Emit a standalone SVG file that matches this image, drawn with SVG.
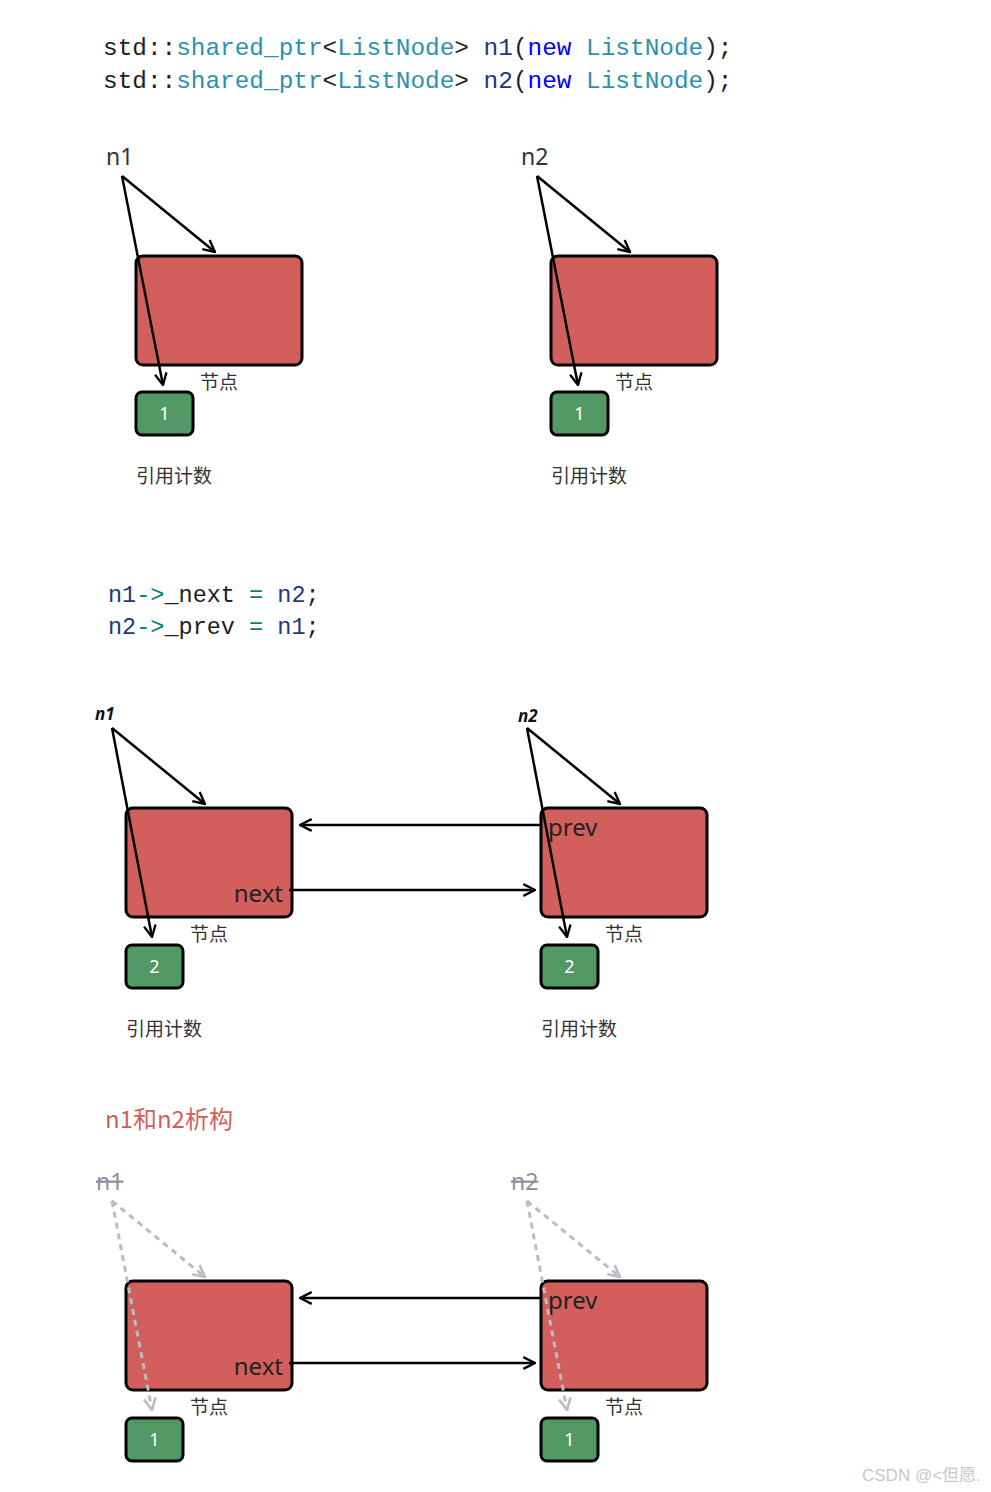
<svg xmlns="http://www.w3.org/2000/svg" width="991" height="1492" viewBox="0 0 991 1492">
<style>
.code{font-family:"Liberation Mono","DejaVu Sans Mono",monospace;font-size:24.4px;fill:#1e1e1e}
.t{fill:#2b91af}.v{fill:#1f377f}.k{fill:#0000ff}.o{fill:#008080}
.lbl{font-family:"Noto Sans","DejaVu Sans",sans-serif;font-size:23px;fill:#333}
.lbi{font-family:"Noto Sans","DejaVu Sans",sans-serif;font-size:17px;font-weight:bold;font-style:italic;fill:#111}
.lbg{font-family:"Noto Sans","DejaVu Sans",sans-serif;font-size:23px;fill:#8d939c;text-decoration:line-through}
.node{fill:#d35f5c;stroke:#000;stroke-width:3}
.cnt{fill:#529865;stroke:#000;stroke-width:3}
.num{font-family:"Noto Sans",sans-serif;font-size:18px;fill:#fff;text-anchor:middle}
.cn{font-family:"Noto Sans CJK SC",sans-serif;font-size:19px;fill:#333}
.in{font-family:"Noto Sans","DejaVu Sans",sans-serif;font-size:24px;fill:#222}
.a{fill:none;stroke:#000;stroke-width:2.5;marker-end:url(#ah)}
.g{fill:none;stroke:#b9bdc4;stroke-width:3;stroke-dasharray:6 5;marker-end:url(#ag)}
</style>
<defs>
<marker id="ah" viewBox="0 0 12 12" refX="11" refY="6" markerWidth="14" markerHeight="14" markerUnits="userSpaceOnUse" orient="auto"><path d="M1,1 L11,6 L1,11" fill="none" stroke="#000" stroke-width="2"/></marker>
<marker id="ag" viewBox="0 0 12 12" refX="11" refY="6" markerWidth="14" markerHeight="14" markerUnits="userSpaceOnUse" orient="auto"><path d="M1,1 L11,6 L1,11" fill="none" stroke="#b9bdc4" stroke-width="2.2"/></marker>
</defs>

<g id="code1">
<text class="code" x="103" y="55">std::<tspan class="t">shared_ptr</tspan>&lt;<tspan class="t">ListNode</tspan>&gt; <tspan class="v">n1</tspan>(<tspan class="k">new</tspan> <tspan class="t">ListNode</tspan>);</text>
<text class="code" x="103" y="88">std::<tspan class="t">shared_ptr</tspan>&lt;<tspan class="t">ListNode</tspan>&gt; <tspan class="v">n2</tspan>(<tspan class="k">new</tspan> <tspan class="t">ListNode</tspan>);</text>
</g>

<!-- Section 1 -->
<g id="s1-n1"><text class="lbl" x="106" y="165">n1</text></g>
<g id="s1-node1"><rect class="node" x="136" y="256" width="166" height="109" rx="7"/><text class="cn" x="200" y="389">节点</text></g>
<g id="s1-cnt1"><rect class="cnt" x="136" y="392" width="57" height="43" rx="6"/><text class="num" x="164.5" y="420">1</text><text class="cn" x="136" y="483">引用计数</text></g>
<g id="s1-n2"><text class="lbl" x="521" y="165">n2</text></g>
<g id="s1-node2"><rect class="node" x="551" y="256" width="166" height="109" rx="7"/><text class="cn" x="615" y="389">节点</text></g>
<g id="s1-cnt2"><rect class="cnt" x="551" y="392" width="57" height="43" rx="6"/><text class="num" x="579.5" y="420">1</text><text class="cn" x="551" y="483">引用计数</text></g>

<g id="code2">
<text class="code" x="108" y="602" style="font-size:23.5px"><tspan class="v">n1</tspan><tspan class="o">-&gt;</tspan>_next <tspan class="o">=</tspan> <tspan class="v">n2</tspan>;</text>
<text class="code" x="108" y="634" style="font-size:23.5px"><tspan class="v">n2</tspan><tspan class="o">-&gt;</tspan>_prev <tspan class="o">=</tspan> <tspan class="v">n1</tspan>;</text>
</g>

<!-- Section 2 -->
<g id="s2-n1"><text class="lbi" x="95" y="720">n1</text></g>
<g id="s2-node1"><rect class="node" x="126" y="808" width="166" height="109" rx="7"/><text class="in" x="283" y="902" text-anchor="end">next</text><text class="cn" x="190" y="941">节点</text></g>
<g id="s2-cnt1"><rect class="cnt" x="126" y="945" width="57" height="43" rx="6"/><text class="num" x="154.5" y="973">2</text><text class="cn" x="126" y="1036">引用计数</text></g>
<g id="s2-n2"><text class="lbi" x="518" y="722">n2</text></g>
<g id="s2-node2"><rect class="node" x="541" y="808" width="166" height="109" rx="7"/><text class="in" x="548" y="836">prev</text><text class="cn" x="605" y="941">节点</text></g>
<g id="s2-cnt2"><rect class="cnt" x="541" y="945" width="57" height="43" rx="6"/><text class="num" x="569.5" y="973">2</text><text class="cn" x="541" y="1036">引用计数</text></g>

<!-- Section 3 -->
<g id="title3"><text x="105" y="1128" style="font-family:'Noto Sans CJK SC',sans-serif;font-size:24px;fill:#d35f5c">n1和n2析构</text></g>
<g id="s3-n1"><text class="lbg" x="96" y="1190">n1</text></g>
<g id="s3-node1"><rect class="node" x="126" y="1281" width="166" height="109" rx="7"/><text class="in" x="283" y="1375" text-anchor="end">next</text><text class="cn" x="190" y="1414">节点</text></g>
<g id="s3-cnt1"><rect class="cnt" x="126" y="1418" width="57" height="43" rx="6"/><text class="num" x="154.5" y="1446">1</text></g>
<g id="s3-n2"><text class="lbg" x="511" y="1190">n2</text></g>
<g id="s3-node2"><rect class="node" x="541" y="1281" width="166" height="109" rx="7"/><text class="in" x="548" y="1309">prev</text><text class="cn" x="605" y="1414">节点</text></g>
<g id="s3-cnt2"><rect class="cnt" x="541" y="1418" width="57" height="43" rx="6"/><text class="num" x="569.5" y="1446">1</text></g>

<g id="connectors">
<line class="a" x1="122" y1="176" x2="215" y2="252"/>
<line class="a" x1="122" y1="176" x2="163" y2="385"/>
<line class="a" x1="537" y1="176" x2="630" y2="252"/>
<line class="a" x1="537" y1="176" x2="578" y2="385"/>

<line class="a" x1="112" y1="728" x2="205" y2="804"/>
<line class="a" x1="112" y1="728" x2="152" y2="937"/>
<line class="a" x1="527" y1="728" x2="620" y2="804"/>
<line class="a" x1="527" y1="728" x2="567" y2="937"/>
<line class="a" x1="541" y1="825" x2="300" y2="825"/>
<line class="a" x1="289" y1="890" x2="535" y2="890"/>

<line class="g" x1="112" y1="1201" x2="205" y2="1277"/>
<line class="g" x1="112" y1="1201" x2="152" y2="1410"/>
<line class="g" x1="527" y1="1201" x2="620" y2="1277"/>
<line class="g" x1="527" y1="1201" x2="567" y2="1410"/>
<line class="a" x1="541" y1="1298" x2="300" y2="1298"/>
<line class="a" x1="289" y1="1363" x2="535" y2="1363"/>
</g>

<text x="862" y="1481" style="font-family:'Liberation Sans','Noto Sans CJK SC',sans-serif;font-size:17px;fill:#c8c8c8">CSDN @&lt;但愿.</text>
</svg>
